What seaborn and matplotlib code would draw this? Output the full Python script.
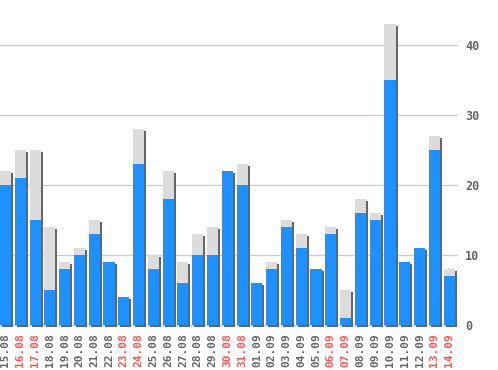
import numpy as np
import pandas as pd
import matplotlib
matplotlib.use("Agg")
import matplotlib.pyplot as plt
from matplotlib.transforms import offset_copy
import seaborn as sns

dates = ["15.08", "16.08", "17.08", "18.08", "19.08", "20.08", "21.08", "22.08",
         "23.08", "24.08", "25.08", "26.08", "27.08", "28.08", "29.08", "30.08",
         "31.08", "01.09", "02.09", "03.09", "04.09", "05.09", "06.09", "07.09",
         "08.09", "09.09", "10.09", "11.09", "12.09", "13.09", "14.09"]
blue_vals = [20, 21, 15, 5, 8, 10, 13, 9, 4, 23, 8, 18, 6, 10, 10, 22,
             20, 6, 8, 14, 11, 8, 13, 1, 16, 15, 35, 9, 11, 25, 7]
total_vals = [22, 25, 25, 14, 9, 11, 15, 9, 4, 28, 10, 22, 9, 13, 14, 22,
              23, 6, 9, 15, 13, 8, 14, 5, 18, 16, 43, 9, 11, 27, 8]
weekend = ["16.08", "17.08", "23.08", "24.08", "30.08", "31.08",
           "06.09", "07.09", "13.09", "14.09"]
y_ticks = [0, 10, 20, 30, 40]

df = pd.DataFrame({"date": dates, "blue": blue_vals, "total": total_vals})

sns.set_theme(style="white")
plt.rcParams["font.family"] = ["DejaVu Sans Mono"]

W, H = 498, 370
fig = plt.figure(figsize=(W / 100, H / 100), dpi=100)
ax = fig.add_axes([0, (H - 328) / H, 458 / W, 328 / H])

bar_kw = dict(width=0.75, saturation=1, linewidth=0, edgecolor="none", ax=ax)

# shadow bars, shifted 2px right and 2px down
n0 = len(ax.patches)
sns.barplot(data=df, x="date", y="total", color="#666666", zorder=2, **bar_kw)
shadow_tr = offset_copy(ax.transData, fig=fig, x=2, y=-2, units="dots")
for p in ax.patches[n0:]:
    p.set_transform(shadow_tr)
    p.set_clip_on(False)

sns.barplot(data=df, x="date", y="total", color="#dcdcdc", zorder=3, **bar_kw)
sns.barplot(data=df, x="date", y="blue", color="#1e90ff", zorder=4, **bar_kw)

ax.set_xlim(-0.37, len(dates) - 1 + 0.6)
ax.set_ylim(-0.43, 46.43)
for v in y_ticks:
    ax.axhline(v, color="#cccccc", lw=1, zorder=1)

ax.yaxis.tick_right()
ax.set_yticks(y_ticks)
ax.set_yticklabels([str(v) for v in y_ticks], fontsize=8.5, fontweight="bold",
                   color="#666666")
ax.tick_params(axis="y", length=0, pad=5)
ax.tick_params(axis="x", length=0, pad=4)
ax.set_xticks(range(len(dates)))
ax.set_xticklabels(dates, rotation=90, fontsize=8, fontweight="bold")
for lbl in ax.get_xticklabels():
    lbl.set_color("#ff5555" if lbl.get_text() in weekend else "#666666")

ax.set_xlabel("")
ax.set_ylabel("")
for s in ax.spines.values():
    s.set_visible(False)

fig.savefig("out.png", dpi=100)
